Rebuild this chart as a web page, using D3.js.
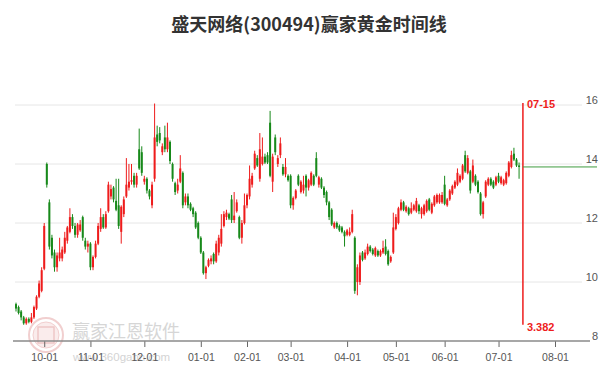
<!DOCTYPE html>
<html lang="zh">
<head>
<meta charset="UTF-8">
<title>盛天网络(300494)赢家黄金时间线</title>
<script src="https://cdn.jsdelivr.net/npm/d3@7"></script>
<style>
  body { margin: 0; background: #fff; }
  svg { display: block; font-family: "Liberation Sans", Arial, sans-serif; }
</style>
</head>
<body>
<script>
// candles per month, each one [open, close, high, low]
const sep = [
  [9.25, 9.1, 9.3, 9.0], [9.15, 8.95, 9.2, 8.9], [9.0, 8.8, 9.05, 8.7], [8.8, 8.6, 8.85, 8.55],
  [8.6, 8.75, 8.8, 8.55], [8.75, 8.65, 8.8, 8.6], [8.65, 8.8, 8.95, 8.6], [8.8, 9.15, 9.2, 8.75],
  [9.1, 9.5, 9.55, 9.05], [9.5, 9.95, 10.05, 9.45], [9.7, 10.4, 10.5, 9.65]
]
const oct = [
  [10.45, 11.9, 12.0, 10.4], [14.0, 13.3, 14.05, 13.2], [12.7, 11.2, 12.8, 11.1], [11.5, 10.9, 11.6, 10.8],
  [11.0, 10.5, 11.1, 10.35], [10.5, 10.9, 11.0, 10.35], [10.8, 11.0, 11.5, 10.7], [10.8, 11.1, 11.2, 10.7],
  [11.0, 11.5, 11.7, 10.95], [11.4, 11.85, 11.9, 11.3], [11.7, 12.2, 12.5, 11.65], [12.2, 11.9, 12.3, 11.8],
  [11.9, 11.6, 12.0, 11.5], [11.6, 11.95, 12.0, 11.5], [11.75, 11.95, 12.1, 11.7], [12.2, 11.5, 12.25, 11.4],
  [11.4, 11.2, 11.5, 11.1], [11.2, 11.3, 11.4, 11.0]
]
const nov = [
  [11.3, 10.5, 11.35, 10.4], [10.5, 10.85, 10.9, 10.4], [10.85, 11.3, 11.4, 10.8], [11.3, 11.9, 12.0, 11.25],
  [11.8, 12.2, 12.5, 11.7], [12.2, 11.85, 12.3, 11.8], [11.85, 12.3, 12.4, 11.8], [12.4, 13.3, 13.4, 12.35],
  [12.9, 13.15, 13.3, 12.8], [13.2, 12.8, 13.25, 12.7], [12.75, 12.45, 13.5, 12.4], [12.6, 11.9, 13.5, 11.8],
  [11.7, 12.55, 12.6, 11.3], [12.3, 12.8, 12.9, 12.2], [12.9, 13.3, 14.2, 12.85], [13.2, 13.4, 14.0, 13.1],
  [13.4, 13.45, 14.0, 13.3], [13.6, 13.3, 13.7, 13.2], [13.3, 13.6, 13.7, 13.2], [14.5, 13.85, 15.2, 13.8],
  [14.4, 13.7, 14.6, 13.6]
]
const dec = [
  [13.4, 13.5, 13.6, 13.3], [13.5, 13.1, 13.55, 13.0], [13.1, 12.9, 13.15, 12.8], [12.6, 13.3, 13.4, 12.5],
  [13.5, 14.9, 16.05, 13.4], [15.0, 14.75, 15.3, 14.6], [15.05, 14.8, 15.25, 14.7], [14.4, 14.6, 14.7, 14.3],
  [14.9, 14.5, 15.3, 14.4], [14.5, 14.9, 15.4, 14.4], [14.75, 14.1, 14.8, 14.0], [14.0, 13.5, 14.05, 13.4],
  [13.35, 13.05, 13.4, 12.95], [13.1, 13.3, 13.5, 13.0], [13.4, 13.85, 14.3, 13.35], [13.7, 12.6, 13.75, 12.5],
  [12.7, 12.9, 13.0, 12.6], [12.9, 12.6, 13.0, 12.5], [12.65, 12.45, 12.7, 12.4], [12.5, 12.3, 12.55, 12.2],
  [12.35, 11.85, 12.4, 11.8], [12.0, 11.5, 12.05, 11.45]
]
const jan = [
  [11.5, 11.0, 11.55, 10.95], [11.0, 10.3, 11.05, 10.25], [10.3, 10.5, 10.55, 10.1], [10.55, 10.75, 10.8, 10.5],
  [10.7, 10.8, 10.9, 10.6], [10.95, 10.7, 11.0, 10.6], [10.7, 11.3, 11.4, 10.65], [11.0, 11.5, 11.6, 10.9],
  [11.3, 11.8, 12.3, 11.2], [11.9, 12.3, 12.4, 11.85], [12.2, 12.35, 12.45, 12.1], [12.3, 12.15, 12.35, 12.1],
  [12.8, 12.1, 12.95, 12.0], [12.1, 12.25, 13.05, 12.0], [12.4, 12.7, 12.8, 12.35], [12.2, 11.5, 12.25, 11.45],
  [11.5, 12.0, 12.1, 11.3], [12.0, 12.6, 13.0, 11.95]
]
const feb = [
  [12.6, 12.95, 13.0, 12.5], [12.9, 13.5, 13.95, 12.8], [13.3, 13.6, 13.7, 13.2], [13.85, 14.35, 14.45, 13.8],
  [14.2, 13.95, 14.3, 13.9], [13.5, 14.5, 15.05, 13.4], [14.0, 14.25, 14.9, 13.95], [14.25, 14.05, 14.35, 14.0],
  [14.3, 14.05, 14.4, 14.0], [15.4, 13.6, 15.8, 13.55], [13.4, 14.25, 14.35, 13.05], [14.9, 14.4, 15.0, 14.3],
  [14.0, 14.2, 14.3, 13.9], [14.3, 14.7, 14.9, 14.2], [13.9, 13.65, 14.0, 13.6], [13.65, 13.9, 14.2, 13.55],
  [13.6, 13.45, 13.65, 13.4]
]
const mar = [
  [13.6, 12.6, 13.65, 12.5], [12.6, 12.85, 12.9, 12.45], [12.85, 13.1, 13.15, 12.8], [13.6, 13.3, 13.65, 13.25],
  [13.05, 13.4, 13.45, 13.0], [13.1, 13.3, 13.6, 13.0], [13.6, 13.2, 13.65, 12.9], [13.2, 13.45, 13.5, 13.1],
  [13.3, 13.7, 13.75, 13.25], [13.6, 13.3, 13.65, 13.25], [14.2, 13.6, 14.4, 13.55], [13.3, 13.55, 13.6, 13.2],
  [13.5, 13.2, 13.55, 13.15], [13.2, 12.95, 13.25, 12.85], [13.05, 12.7, 13.1, 12.6], [12.7, 12.2, 12.75, 12.1],
  [12.45, 11.95, 12.5, 11.9], [11.85, 12.0, 12.05, 11.8], [12.0, 11.85, 12.05, 11.8], [11.9, 11.75, 11.95, 11.7],
  [11.85, 11.7, 11.9, 11.65], [11.7, 11.55, 11.75, 11.2]
]
const apr = [
  [11.6, 11.75, 11.8, 11.55], [11.6, 11.7, 11.85, 11.55], [11.7, 12.3, 12.45, 11.65], [11.5, 9.7, 11.55, 9.6],
  [10.0, 10.5, 10.6, 9.55], [10.0, 10.9, 11.0, 9.9], [11.0, 10.75, 11.05, 10.7], [10.8, 11.0, 11.1, 10.75],
  [10.95, 11.2, 11.3, 10.9], [11.2, 11.05, 11.25, 11.0], [11.1, 10.95, 11.15, 10.9], [10.9, 11.15, 11.2, 10.85],
  [11.05, 10.9, 11.1, 10.85], [10.9, 11.05, 11.1, 10.85], [11.0, 11.15, 11.4, 10.95], [11.2, 10.95, 11.45, 10.9],
  [11.05, 10.6, 11.1, 10.55], [10.7, 10.85, 10.9, 10.65], [11.0, 11.85, 12.35, 10.95]
]
const may = [
  [11.8, 12.2, 12.3, 11.75], [12.0, 12.5, 12.55, 11.95], [12.45, 12.7, 12.8, 12.4], [12.7, 12.45, 12.75, 12.4],
  [12.4, 12.55, 12.6, 12.35], [12.5, 12.3, 12.55, 12.25], [12.35, 12.5, 12.7, 12.3], [12.45, 12.6, 12.65, 12.4],
  [12.4, 12.75, 12.85, 12.35], [12.6, 12.4, 12.65, 12.3], [12.3, 12.5, 12.55, 12.15], [12.3, 12.6, 12.65, 12.25],
  [12.4, 12.75, 12.8, 12.35], [12.8, 12.45, 12.85, 12.4], [12.35, 12.65, 12.7, 12.3], [12.6, 12.9, 12.95, 12.55],
  [12.7, 12.95, 13.0, 12.65], [12.7, 12.95, 13.0, 12.65], [12.7, 12.95, 13.05, 12.65]
]
const jun = [
  [13.3, 12.65, 13.6, 12.6], [12.6, 12.8, 12.85, 12.55], [12.8, 13.1, 13.15, 12.75], [13.0, 13.25, 13.3, 12.95],
  [13.2, 13.4, 13.45, 13.15], [13.3, 13.7, 13.85, 13.25], [13.4, 13.6, 13.65, 13.35], [13.5, 13.95, 14.0, 13.45],
  [14.3, 13.75, 14.45, 13.7], [13.7, 14.2, 14.3, 13.65], [13.75, 13.1, 13.8, 13.0], [13.4, 13.95, 14.15, 13.35],
  [13.6, 13.3, 13.65, 13.25], [13.4, 13.05, 13.45, 13.0], [13.0, 12.3, 13.05, 12.25], [12.3, 12.7, 12.75, 12.15],
  [12.9, 13.4, 13.45, 12.85], [13.3, 13.5, 13.55, 13.25], [13.5, 13.3, 13.55, 13.25], [13.4, 13.2, 13.45, 13.15],
  [13.3, 13.55, 13.6, 13.25]
]
const jul = [
  [13.6, 13.4, 13.7, 13.35], [13.35, 13.55, 13.6, 13.3], [13.3, 13.45, 13.5, 13.25], [13.35, 13.7, 13.75, 13.3],
  [13.6, 14.05, 14.1, 13.55], [13.9, 14.3, 14.45, 13.85], [14.35, 14.15, 14.55, 14.1], [14.15, 13.95, 14.2, 13.9],
  [13.95, 13.9, 14.05, 13.5]
]

const months = [sep, oct, nov, dec, jan, feb, mar, apr, may, jun, jul]
const monthLabels = ['10-01', '11-01', '12-01', '01-01', '02-01', '03-01', '04-01', '05-01', '06-01', '07-01', '08-01']
const julTradingDays = 22
const yTicks = [8, 10, 12, 14, 16]
const markDate = '07-15'
const markNumber = '3.382'
const markTop = 16.07
const markBottom = 8.55
const title = '盛天网络(300494)赢家黄金时间线'

const width = 600
const height = 371
const red = '#ee1c1c'
const green = '#17891a'

// flatten, remember where each month starts
const candles = []
const monthStarts = []
months.forEach(m => {
  monthStarts.push(candles.length)
  m.forEach(c => candles.push({ o: c[0], c: c[1], h: c[2], l: c[3] }))
})
const tickIdx = monthStarts.slice(1)
tickIdx.push(monthStarts[monthStarts.length - 1] + julTradingDays)

const svg = d3.select('body').append('svg')
  .attr('width', width)
  .attr('height', height)

const x = d3.scaleLinear()
  .domain([0, tickIdx[tickIdx.length - 1]])
  .range([16, 555])

const y = d3.scaleLinear()
  .domain([8, 16])
  .range([341, 105])

// title
svg.append('text')
  .attr('x', 309)
  .attr('y', 31)
  .attr('text-anchor', 'middle')
  .attr('font-family', '"Noto Sans CJK SC", sans-serif')
  .attr('font-weight', 'bold')
  .attr('font-size', 18)
  .attr('fill', '#333')
  .text(title)

// grid lines
svg.append('g')
  .selectAll('line')
  .data(yTicks.filter(d => d > 8))
  .enter()
  .append('line')
  .attr('x1', 15)
  .attr('x2', 582)
  .attr('y1', d => y(d))
  .attr('y2', d => y(d))
  .attr('stroke', '#e6e6e6')
  .attr('stroke-width', 1)

// watermark
const wm = svg.append('g').attr('opacity', 0.55)
wm.append('circle').attr('cx', 46).attr('cy', 335).attr('r', 17)
  .attr('fill', 'none').attr('stroke', '#e7a9a9').attr('stroke-width', 2)
wm.append('circle').attr('cx', 46).attr('cy', 335).attr('r', 13)
  .attr('fill', '#f7dede').attr('stroke', '#e7a9a9').attr('stroke-width', 1)
wm.append('rect').attr('x', 38).attr('y', 327).attr('width', 16).attr('height', 16)
  .attr('fill', 'none').attr('stroke', '#e29a9a').attr('stroke-width', 1.5)
wm.append('text').attr('x', 72).attr('y', 338)
  .attr('font-family', '"Noto Sans CJK SC", sans-serif')
  .attr('font-size', 18).attr('fill', '#b5b5b5')
  .text('赢家江恩软件')
wm.append('text').attr('x', 73).attr('y', 361)
  .attr('font-size', 11.5).attr('fill', '#b0b0b0')
  .text('www.360gann.com')

// y axis labels on the right
svg.append('g')
  .selectAll('text')
  .data(yTicks)
  .enter()
  .append('text')
  .attr('x', 598)
  .attr('y', d => y(d) - 1)
  .attr('text-anchor', 'end')
  .attr('font-size', 11)
  .attr('fill', '#555')
  .text(d => d)

// x axis
const xAxis = d3.axisBottom(x)
  .tickValues(tickIdx)
  .tickFormat((d, i) => monthLabels[i])
  .tickSize(6)
  .tickSizeOuter(0)

const gx = svg.append('g')
  .attr('transform', `translate(0, ${y(8)})`)
  .call(xAxis)
gx.select('.domain').remove()
gx.selectAll('.tick line').attr('stroke', '#666')
gx.selectAll('.tick text')
  .attr('font-size', 10.5)
  .attr('fill', '#555')
  .attr('dy', '1.05em')
svg.append('line')
  .attr('x1', 13).attr('x2', 590)
  .attr('y1', y(8)).attr('y2', y(8))
  .attr('stroke', '#8a8a8a').attr('stroke-width', 1.5)

// candles
const bw = 2
const g = svg.append('g')
g.selectAll('line.wick')
  .data(candles)
  .enter()
  .append('line')
  .attr('class', 'wick')
  .attr('x1', (d, i) => x(i))
  .attr('x2', (d, i) => x(i))
  .attr('y1', d => y(d.h))
  .attr('y2', d => y(d.l))
  .attr('stroke', d => d.c >= d.o ? red : green)
  .attr('stroke-width', 1)
g.selectAll('rect.body')
  .data(candles)
  .enter()
  .append('rect')
  .attr('class', 'body')
  .attr('x', (d, i) => x(i) - bw / 2)
  .attr('y', d => y(Math.max(d.o, d.c)))
  .attr('width', bw)
  .attr('height', d => Math.max(1, Math.abs(y(d.o) - y(d.c))))
  .attr('fill', d => d.c >= d.o ? red : green)

// time marker line at 07-15
const mx = x(candles.length + 0.5)
svg.append('line')
  .attr('x1', mx).attr('x2', mx)
  .attr('y1', y(markTop)).attr('y2', y(markBottom))
  .attr('stroke', red).attr('stroke-width', 1.5)
svg.append('text')
  .attr('x', mx + 4).attr('y', y(markTop) + 5)
  .attr('font-size', 11).attr('font-weight', 'bold').attr('fill', red)
  .text(markDate)
svg.append('text')
  .attr('x', mx + 4).attr('y', y(markBottom) + 6)
  .attr('font-size', 11).attr('font-weight', 'bold').attr('fill', red)
  .text(markNumber)

// last close extended to the right
const last = candles[candles.length - 1]
svg.append('line')
  .attr('x1', mx).attr('x2', 597)
  .attr('y1', y(last.c)).attr('y2', y(last.c))
  .attr('stroke', '#3f9c3f').attr('stroke-width', 1)
</script>
</body>
</html>
